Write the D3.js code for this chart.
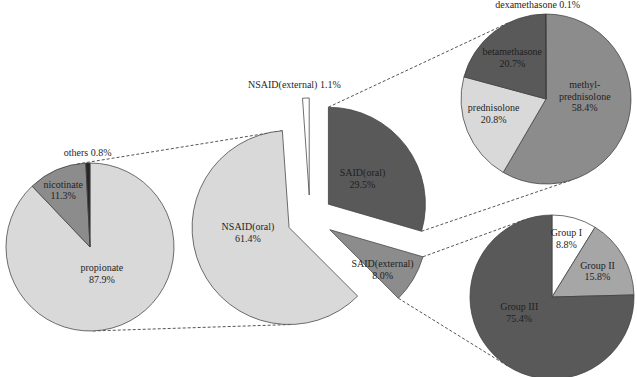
<!DOCTYPE html>
<html>
<head>
<meta charset="utf-8">
<script src="https://cdn.jsdelivr.net/npm/d3@7"></script>
<style>
  body { margin: 0; background: #fff; }
  svg { display: block; }
  .slice { stroke: #404040; stroke-width: 0.75; }
  .link { fill: none; stroke: #555; stroke-width: 1; stroke-dasharray: 3,2; }
  text { font-family: "Liberation Serif", "Times New Roman", serif; font-size: 10px; fill: #1f1f1f; }
</style>
</head>
<body>
<svg width="637" height="377"></svg>
<script>
// main pie: anti-inflammatory drug classes
const mainCats = ['SAID(oral)', 'SAID(external)', 'NSAID(oral)', 'NSAID(external)'];
const mainVals = [29.5, 8.0, 61.4, 1.1];
// breakdown of NSAID(oral)
const nsaidCats = ['propionate', 'nicotinate', 'others'];
const nsaidVals = [87.9, 11.3, 0.8];
// breakdown of SAID(oral)
const saidOralCats = ['methyl-|prednisolone', 'prednisolone', 'betamethasone', 'dexamethasone'];
const saidOralVals = [58.4, 20.8, 20.7, 0.1];
// breakdown of SAID(external)
const saidExtCats = ['Group I', 'Group II', 'Group III'];
const saidExtVals = [8.8, 15.8, 75.4];

const svg = d3.select('svg');

// layout of the four pies
const mainPie = { cx: 310, cy: 218, r: 97, explode: 23,
  colors: ['#595959', '#8c8c8c', '#d9d9d9', '#ffffff'],
  labels: [[0.44, 0, 0], [0.68, -4, 6], [0.42, -4, -12], [1.14, -11, 0, true]] };
const leftPie = { cx: 90, cy: 247, r: 84, explode: 0,
  colors: ['#d9d9d9', '#8c8c8c', '#262626'],
  labels: [[0.35, 1, -1], [0.75, -2, 1], [1.12, 0, 0, true]] };
const topPie = { cx: 546, cy: 99, r: 85, explode: 0,
  colors: ['#8c8c8c', '#d9d9d9', '#595959', '#262626'],
  labels: [[0.46, 1, -13], [0.64, -2, -6], [0.63, -1, 1], [1.11, -8, 0, true]] };
const botPie = { cx: 552, cy: 297, r: 82, explode: 0,
  colors: ['#ffffff', '#a6a6a6', '#595959'],
  labels: [[0.73, -2, -1], [0.64, 0, 0], [0.45, -7, -11]] };

const pie = d3.pie().sort(null);

function polar(cx, cy, rad, ang) {
  return [cx + rad * Math.sin(ang), cy - rad * Math.cos(ang)];
}

// build arcs, with exploded centre per slice
function layout(cfg, vals) {
  return pie(vals).map(d => {
    const mid = (d.startAngle + d.endAngle) / 2;
    const [sx, sy] = polar(cfg.cx, cfg.cy, cfg.explode, mid);
    return Object.assign(d, { sx, sy, mid });
  });
}

const mainArcs = layout(mainPie, mainVals);
const leftArcs = layout(leftPie, nsaidVals);
const topArcs = layout(topPie, saidOralVals);
const botArcs = layout(botPie, saidExtVals);

// tangent from point p to circle (c, r); side picks one of the two
function tangent(p, c, r, side) {
  const dx = c[0] - p[0], dy = c[1] - p[1];
  const d = Math.hypot(dx, dy);
  const th = Math.atan2(dy, dx) + side * Math.asin(r / d);
  const L = Math.sqrt(d * d - r * r);
  return [p[0] + L * Math.cos(th), p[1] + L * Math.sin(th)];
}
// outer common tangent of two circles
function commonTangent(c1, r1, c2, r2, side) {
  const dx = c2[0] - c1[0], dy = c2[1] - c1[1];
  const d = Math.hypot(dx, dy);
  const phi = Math.atan2(dy, dx) + side * Math.acos((r2 - r1) / d);
  const n = [Math.cos(phi), Math.sin(phi)];
  return [[c1[0] - r1 * n[0], c1[1] - r1 * n[1]], [c2[0] - r2 * n[0], c2[1] - r2 * n[1]]];
}

// connector lines (drawn below the pies)
const nsaidOral = mainArcs[2], saidOral = mainArcs[0], saidExt = mainArcs[1];
const links = [];
{
  const corner = polar(nsaidOral.sx, nsaidOral.sy, mainPie.r, nsaidOral.endAngle);
  links.push([corner, tangent(corner, [leftPie.cx, leftPie.cy], leftPie.r, 1)]);
  links.push(commonTangent([leftPie.cx, leftPie.cy], leftPie.r, [nsaidOral.sx, nsaidOral.sy], mainPie.r, -1));
  const c1 = polar(saidOral.sx, saidOral.sy, mainPie.r, saidOral.startAngle);
  links.push([c1, tangent(c1, [topPie.cx, topPie.cy], topPie.r, -1)]);
  const c2 = polar(saidOral.sx, saidOral.sy, mainPie.r, saidOral.endAngle);
  links.push([c2, tangent(c2, [topPie.cx, topPie.cy], topPie.r, 1)]);
  const c3 = polar(saidExt.sx, saidExt.sy, mainPie.r, saidExt.startAngle);
  links.push([c3, tangent(c3, [botPie.cx, botPie.cy], botPie.r, -1)]);
  const c4 = polar(saidExt.sx, saidExt.sy, mainPie.r, saidExt.endAngle);
  links.push([c4, tangent(c4, [botPie.cx, botPie.cy], botPie.r, 1)]);
}
svg.selectAll('.link')
  .data(links)
  .join('line')
  .classed('link', true)
  .attr('x1', d => d[0][0]).attr('y1', d => d[0][1])
  .attr('x2', d => d[1][0]).attr('y2', d => d[1][1]);

function drawPie(cfg, arcs, cats) {
  const arc = d3.arc().innerRadius(0).outerRadius(cfg.r);
  const g = svg.append('g');
  g.selectAll('path')
    .data(arcs)
    .join('path')
    .classed('slice', true)
    .attr('transform', d => `translate(${d.sx},${d.sy})`)
    .attr('fill', (d, i) => cfg.colors[i])
    .attr('d', arc);

  const lab = g.selectAll('text')
    .data(arcs)
    .join('text')
    .attr('text-anchor', 'middle')
    .attr('transform', (d, i) => {
      const [f, dx, dy] = cfg.labels[i];
      const [x, y] = polar(d.sx, d.sy, cfg.r * f, d.mid);
      return `translate(${x + dx},${y + dy})`;
    });
  lab.each(function (d, i) {
    const pct = d3.format('.1f')(d.data) + '%';
    const outside = cfg.labels[i][3];
    const lines = outside ? [cats[i] + ' ' + pct] : cats[i].split('|').concat(pct);
    const t = d3.select(this);
    const lh = 11.5;
    lines.forEach((s, k) => {
      t.append('tspan')
        .attr('x', 0)
        .attr('y', (k - (lines.length - 1) / 2) * lh)
        .attr('dy', '0.35em')
        .text(s);
    });
  });
}

drawPie(leftPie, leftArcs, nsaidCats);
drawPie(mainPie, mainArcs, mainCats);
drawPie(topPie, topArcs, saidOralCats);
drawPie(botPie, botArcs, saidExtCats);
</script>
</body>
</html>
